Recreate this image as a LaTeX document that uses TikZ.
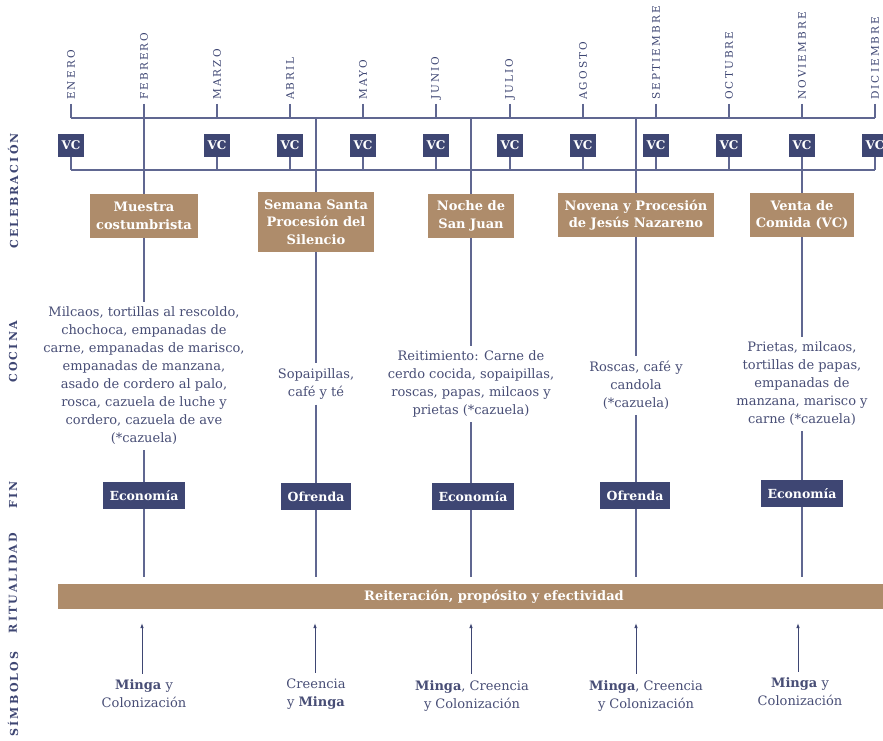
\documentclass[tikz,border=0pt]{standalone}
\usepackage{fontspec}
\setmainfont{DejaVu Serif}
\newfontfamily\spaced[LetterSpace=20]{DejaVu Serif}
\usetikzlibrary{arrows.meta}

\definecolor{navy}{RGB}{62,70,115}
\definecolor{cafe}{RGB}{174,140,107}
\definecolor{tinta}{RGB}{72,78,118}
\definecolor{linea}{RGB}{96,103,145}

\begin{document}
\begin{tikzpicture}[x=1pt,y=-1pt,
  mes/.style={rotate=90,anchor=west,inner sep=4pt,text=navy,font=\spaced\fontsize{10.5}{12}\selectfont},
  eje/.style={rotate=90,text=navy,font=\spaced\bfseries\fontsize{11}{12}\selectfont},
  vc/.style={fill=navy,text=white,minimum width=26pt,minimum height=23pt,inner sep=0pt,font=\bfseries\fontsize{12}{12}\selectfont},
  fiesta/.style={fill=cafe,text=white,align=center,inner xsep=6pt,minimum height=44pt,font=\bfseries\fontsize{13}{17.5}\selectfont},
  cocina/.style={text=tinta,align=center,inner sep=5pt,font=\fontsize{13}{18}\selectfont},
  fin/.style={fill=navy,text=white,minimum height=27pt,inner xsep=7pt,font=\bfseries\fontsize{12.5}{15}\selectfont},
  simbolo/.style={text=tinta,align=center,inner sep=6pt,font=\fontsize{13}{18}\selectfont},
  linea/.style={draw=linea,line width=1.1pt}]

\useasboundingbox (0,0) rectangle (883,741);
\fill[white] (0,0) rectangle (883,741);

% ejes
\node[eje] (celebracion) at (13,191) {CELEBRACIÓN};
\node[eje] (cocina) at (13,352) {COCINA};
\node[eje] (fin) at (13,495) {FIN};
\node[eje] (ritualidad) at (13,583) {RITUALIDAD};
\node[eje] (simbolos) at (13,694) {SÍMBOLOS};

% meses
\node[mes] (m1) at (71,104) {ENERO};
\node[mes] (m2) at (144,104) {FEBRERO};
\node[mes] (m3) at (217,104) {MARZO};
\node[mes] (m4) at (290,104) {ABRIL};
\node[mes] (m5) at (363,104) {MAYO};
\node[mes] (m6) at (436,104) {JUNIO};
\node[mes] (m7) at (510,104) {JULIO};
\node[mes] (m8) at (583,104) {AGOSTO};
\node[mes] (m9) at (656,104) {SEPTIEMBRE};
\node[mes] (m10) at (729,104) {OCTUBRE};
\node[mes] (m11) at (802,104) {NOVIEMBRE};
\node[mes] (m12) at (875,104) {DICIEMBRE};

\coordinate (a1) at (71,118);
\coordinate (a2) at (144,118);
\coordinate (a3) at (217,118);
\coordinate (a4) at (290,118);
\coordinate (a5) at (363,118);
\coordinate (a6) at (436,118);
\coordinate (a7) at (510,118);
\coordinate (a8) at (583,118);
\coordinate (a9) at (656,118);
\coordinate (a10) at (729,118);
\coordinate (a11) at (802,118);
\coordinate (a12) at (875,118);

\draw[linea] (m1) -- (a1);
\draw[linea] (m2) -- (a2);
\draw[linea] (m3) -- (a3);
\draw[linea] (m4) -- (a4);
\draw[linea] (m5) -- (a5);
\draw[linea] (m6) -- (a6);
\draw[linea] (m7) -- (a7);
\draw[linea] (m8) -- (a8);
\draw[linea] (m9) -- (a9);
\draw[linea] (m10) -- (a10);
\draw[linea] (m11) -- (a11);
\draw[linea] (m12) -- (a12);
\draw[linea] (a1) -- (a12);

% venta de comida
\node[vc] (v1) at (71,145.5) {VC};
\node[vc] (v3) at (217,145.5) {VC};
\node[vc] (v4) at (290,145.5) {VC};
\node[vc] (v5) at (363,145.5) {VC};
\node[vc] (v6) at (436,145.5) {VC};
\node[vc] (v7) at (510,145.5) {VC};
\node[vc] (v8) at (583,145.5) {VC};
\node[vc] (v9) at (656,145.5) {VC};
\node[vc] (v10) at (729,145.5) {VC};
\node[vc] (v11) at (802,145.5) {VC};
\node[vc] (v12) at (875,145.5) {VC};

\coordinate (b1) at (71,170);
\coordinate (b3) at (217,170);
\coordinate (b4) at (290,170);
\coordinate (b5) at (363,170);
\coordinate (b6) at (436,170);
\coordinate (b7) at (510,170);
\coordinate (b8) at (583,170);
\coordinate (b9) at (656,170);
\coordinate (b10) at (729,170);
\coordinate (b11) at (802,170);
\coordinate (b12) at (875,170);

\draw[linea] (v1) -- (b1);
\draw[linea] (v3) -- (b3);
\draw[linea] (v4) -- (b4);
\draw[linea] (v5) -- (b5);
\draw[linea] (v6) -- (b6);
\draw[linea] (v7) -- (b7);
\draw[linea] (v8) -- (b8);
\draw[linea] (v9) -- (b9);
\draw[linea] (v10) -- (b10);
\draw[linea] (v12) -- (b12);
\draw[linea] (b1) -- (b12);

% celebraciones
\node[fiesta,minimum width=107pt] (f1) at (144,216) {Muestra\\costumbrista};
\node[fiesta,minimum width=116pt,minimum height=60pt] (f2) at (316,222) {Semana Santa\\Procesión del\\Silencio};
\node[fiesta,minimum width=86pt] (f3) at (471,216) {Noche de\\San Juan};
\node[fiesta,minimum width=156pt] (f4) at (636,215) {Novena y Procesión\\de Jesús Nazareno};
\node[fiesta,minimum width=103pt] (f5) at (802,215) {Venta de\\Comida (VC)};

\coordinate (s4) at (316,118);
\coordinate (s6) at (471,118);
\coordinate (s9) at (636,118);

\draw[linea] (a2) -- (f1);
\draw[linea] (s4) -- (f2);
\draw[linea] (s6) -- (f3);
\draw[linea] (s9) -- (f4);
\draw[linea] (v11) -- (f5);

% cocina
\node[cocina] (c1) at (144,376) {Milcaos, tortillas al rescoldo,\\chochoca, empanadas de\\carne, empanadas de marisco,\\empanadas de manzana,\\asado de cordero al palo,\\rosca, cazuela de luche y\\cordero, cazuela de ave\\(*cazuela)};
\node[cocina] (c2) at (316,384) {Sopaipillas,\\café y té};
\node[cocina] (c3) at (471,384) {Reitimiento: Carne de\\cerdo cocida, sopaipillas,\\roscas, papas, milcaos y\\prietas (*cazuela)};
\node[cocina] (c4) at (636,385.5) {Roscas, café y\\candola\\(*cazuela)};
\node[cocina] (c5) at (802,384) {Prietas, milcaos,\\tortillas de papas,\\empanadas de\\manzana, marisco y\\carne (*cazuela)};

\draw[linea] (f1) -- (c1);
\draw[linea] (f2) -- (c2);
\draw[linea] (f3) -- (c3);
\draw[linea] (f4) -- (c4);
\draw[linea] (f5) -- (c5);

% fin
\node[fin] (e1) at (144,495.5) {Economía};
\node[fin] (e2) at (316,496.5) {Ofrenda};
\node[fin] (e3) at (473,496.5) {Economía};
\node[fin] (e4) at (635,495.5) {Ofrenda};
\node[fin] (e5) at (802,493.5) {Economía};

\draw[linea] (c1) -- (e1);
\draw[linea] (c2) -- (e2);
\draw[linea] (c3.south -| s6) -- (s6 |- e3.north);
\draw[linea] (c4) -- (c4 |- e4.north);
\draw[linea] (c5) -- (e5);

% ritualidad
\node[fill=cafe,text=white,minimum width=872pt,minimum height=25pt,font=\bfseries\fontsize{13}{14}\selectfont] (rit) at (494,596.5) {Reiteración, propósito y efectividad};

\coordinate (r1) at (144,577);
\coordinate (r2) at (316,577);
\coordinate (r3) at (471,577);
\coordinate (r4) at (636,577);
\coordinate (r5) at (802,577);

\draw[linea] (e1) -- (r1);
\draw[linea] (e2) -- (r2);
\draw[linea] (e3.south -| r3) -- (r3);
\draw[linea] (e4.south -| r4) -- (r4);
\draw[linea] (e5) -- (r5);

% simbolos
\node[simbolo] (sy1) at (144,694) {\textbf{Minga} y\\Colonización};
\node[simbolo] (sy2) at (316,694) {Creencia\\y \textbf{Minga}};
\node[simbolo] (sy3) at (472,695.5) {\textbf{Minga}, Creencia\\y Colonización};
\node[simbolo] (sy4) at (646,695.5) {\textbf{Minga}, Creencia\\y Colonización};
\node[simbolo] (sy5) at (800,692) {\textbf{Minga} y\\Colonización};

\coordinate (q1) at (142,623);
\coordinate (q2) at (315,623);
\coordinate (q3) at (471,623);
\coordinate (q4) at (636,623);
\coordinate (q5) at (798,623);

\draw[draw=navy,line width=0.9pt,-{Latex[length=5pt,width=3.5pt]}] (sy1.north -| q1) -- (q1);
\draw[draw=navy,line width=0.9pt,-{Latex[length=5pt,width=3.5pt]}] (sy2.north -| q2) -- (q2);
\draw[draw=navy,line width=0.9pt,-{Latex[length=5pt,width=3.5pt]}] (sy3.north -| q3) -- (q3);
\draw[draw=navy,line width=0.9pt,-{Latex[length=5pt,width=3.5pt]}] (sy4.north -| q4) -- (q4);
\draw[draw=navy,line width=0.9pt,-{Latex[length=5pt,width=3.5pt]}] (sy5.north -| q5) -- (q5);

\end{tikzpicture}
\end{document}
